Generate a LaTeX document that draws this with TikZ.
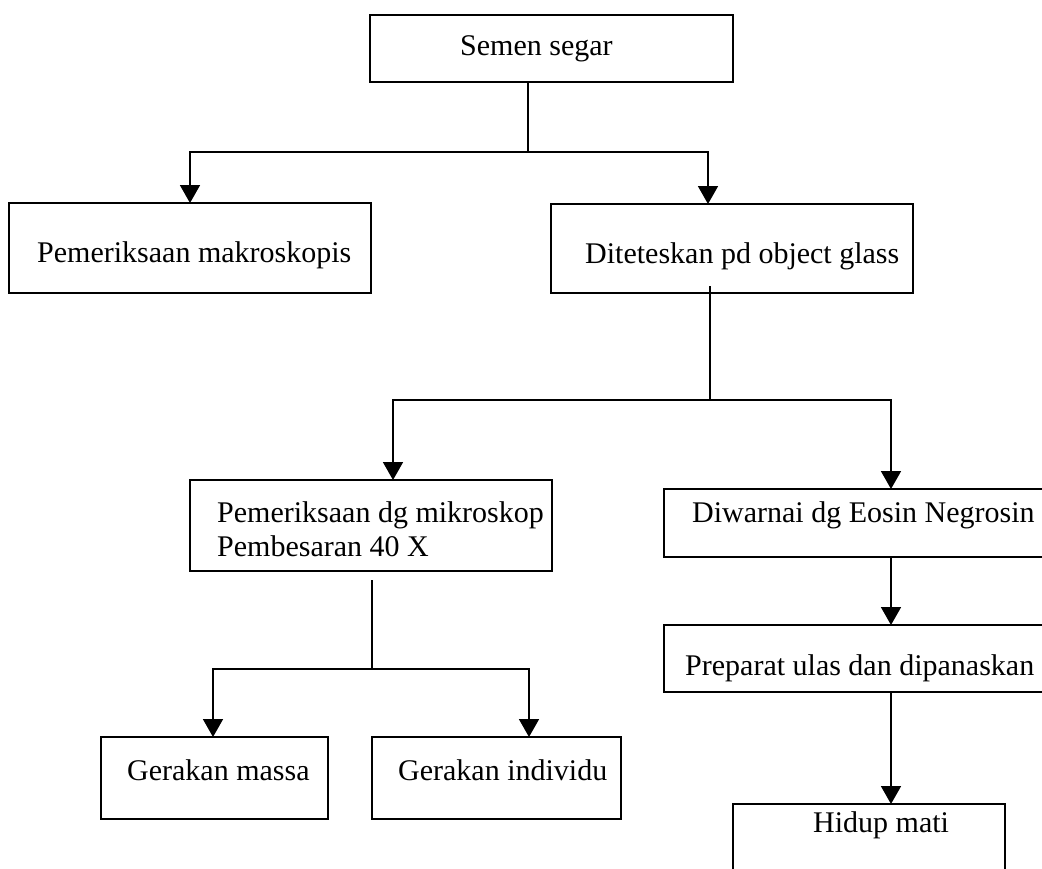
\documentclass[tikz,border=0pt]{standalone}
\usepackage{fontspec}
\setmainfont{Liberation Serif}
\usetikzlibrary{arrows.meta}
\begin{document}
\begin{tikzpicture}[x=1pt,y=-1pt,
  box/.style={draw,line width=2pt,rectangle,inner sep=0pt,outer sep=0pt},
  txt/.style={anchor=base west,inner sep=0pt,font=\fontsize{30}{34}\selectfont},
  ln/.style={line width=1.8pt},
  arr/.style={line width=1.8pt,-{Triangle[width=20pt,length=18pt]}}]
\useasboundingbox (0,0) rectangle (1042,868);
\clip (0,0) rectangle (1042,868);
% boxes
\node[box,minimum width=363pt,minimum height=67pt] (top) at (551.5,48.5) {};
\node[box,minimum width=362pt,minimum height=90pt] (mak) at (190,248) {};
\node[box,minimum width=362pt,minimum height=89pt] (dit) at (732,248.5) {};
\node[box,minimum width=362pt,minimum height=91pt] (mik) at (371,525.5) {};
\node[box,minimum width=381pt,minimum height=68pt] (diw) at (854.5,523) {};
\node[box,minimum width=381pt,minimum height=67pt] (pre) at (854.5,658.5) {};
\node[box,minimum width=272pt,minimum height=76pt] (hid) at (869,842) {};
\node[box,minimum width=227pt,minimum height=82pt] (mas) at (214.5,778) {};
\node[box,minimum width=249pt,minimum height=82pt] (ind) at (496.5,778) {};
% texts
\node[txt] (ttop) at (460,55) {Semen segar};
\node[txt] (tmak) at (37,262) {Pemeriksaan makroskopis};
\node[txt] (tdit) at (585,263) {Diteteskan pd object glass};
\node[txt] (tmik) at (217,522) {Pemeriksaan dg mikroskop};
\node[txt] (tmik2) at (217,556) {Pembesaran 40 X};
\node[txt] (tdiw) at (692,522) {Diwarnai dg Eosin Negrosin};
\node[txt] (tpre) at (685,675) {Preparat ulas dan dipanaskan};
\node[txt] (thid) at (813,832) {Hidup mati};
\node[txt] (tmas) at (127,780) {Gerakan massa};
\node[txt] (tind) at (398,780) {Gerakan individu};
% fork coordinates
\coordinate (s1) at (528,82);
\coordinate (f1) at (528,152);
\coordinate (a1) at (708,152);
\coordinate (s2) at (710,286);
\coordinate (f2) at (710,400);
\coordinate (a2) at (393,400);
\coordinate (a3) at (891,400);
\coordinate (s3) at (372,580);
\coordinate (f3) at (372,669);
\coordinate (a4) at (213,669);
\coordinate (a5) at (529,669);
% connectors
\draw[ln] (s1 |- top.south) -- (f1);
\draw[arr] (f1) -| (mak.north);
\draw[arr] (f1) -- (a1) -- (a1 |- dit.north);
\draw[ln] (s2) -- (f2);
\draw[arr] (f2) -- (a2) -- (a2 |- mik.north);
\draw[arr] (f2) -- (a3) -- (a3 |- diw.north);
\draw[ln] (s3) -- (f3);
\draw[arr] (f3) -- (a4) -- (a4 |- mas.north);
\draw[arr] (f3) -- (a5) -- (a5 |- ind.north);
\draw[arr] (a3 |- diw.south) -- (a3 |- pre.north);
\draw[arr] (a3 |- pre.south) -- (a3 |- hid.north);
\end{tikzpicture}
\end{document}
